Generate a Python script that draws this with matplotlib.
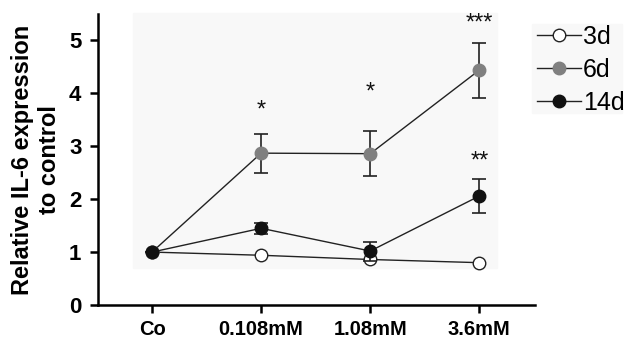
import numpy as np
import matplotlib.pyplot as plt
from matplotlib.patches import Rectangle
from matplotlib.lines import Line2D

plt.rcParams['font.family'] = ['Liberation Sans', 'DejaVu Sans']

groups = ["Co", "0.108mM", "1.08mM", "3.6mM"]
d3 = [1.0, 0.94, 0.86, 0.80]
d6 = [1.0, 2.87, 2.86, 4.44]
d6_err = [0.0, 0.37, 0.43, 0.52]
d14 = [1.0, 1.45, 1.02, 2.06]
d14_err = [0.0, 0.10, 0.18, 0.33]
stars = ["*", "*", "***", "**"]
star_x = [1, 2, 3, 3]
star_y = [3.46, 3.81, 5.12, 2.50]

fig = plt.figure(figsize=(6.25, 3.41), dpi=100)
# faint grey patches behind plot and legend (scan artefact)
fig.patches.append(Rectangle((133/625, 1-268/341), (497-133)/625, (268-13)/341,
                             transform=fig.transFigure, color='#f8f8f8', zorder=-5))
fig.patches.append(Rectangle((532/625, 1-113/341), (622-532)/625, (113-24)/341,
                             transform=fig.transFigure, color='#f8f8f8', zorder=-5))
ax = fig.add_axes([98/625, 1-305/341, (535-98)/625, (305-14)/341])
ax.set_zorder(2)
ax.patch.set_alpha(0)

x = np.arange(len(groups))
lc = '#222222'
ax.errorbar(x, d6, yerr=d6_err, color=lc, lw=1, marker='o', ms=9, mfc='#808080',
            mec='#808080', ecolor=lc, elinewidth=1.2, capsize=5, capthick=1.2, zorder=3)
ax.errorbar(x, d14, yerr=d14_err, color=lc, lw=1, marker='o', ms=9, mfc='#111111',
            mec='#111111', ecolor=lc, elinewidth=1.2, capsize=5, capthick=1.2, zorder=4)
ax.plot(x, d3, color=lc, lw=1, marker='o', ms=9, mfc='white', mec=lc, mew=1, zorder=2)

for sx, sy, s in zip(star_x, star_y, stars):
    ax.text(sx, sy, s, ha='center', va='bottom', fontsize=17, color='#111111')

ax.set_xlim(-0.495, 3.51)
ax.set_ylim(0, 5.5)
ax.set_xticks(x)
ax.set_xticklabels(groups, fontsize=14.5, fontweight='bold')
ax.set_yticks(range(6))
ax.set_yticklabels([str(i) for i in range(6)], fontsize=16, fontweight='bold')
for s in ['top', 'right']:
    ax.spines[s].set_visible(False)
for s in ['left', 'bottom']:
    ax.spines[s].set_linewidth(1.8)
ax.tick_params(axis='x', width=1.8, length=6, pad=5)
ax.tick_params(axis='y', width=1.8, length=6, pad=6)
ax.set_ylabel("Relative IL-6 expression\nto control", fontsize=17, fontweight='bold',
              labelpad=6, linespacing=1.2)

hs = [Line2D([], [], color=lc, lw=1, marker='o', ms=9, mfc='white', mec=lc),
      Line2D([], [], color=lc, lw=1, marker='o', ms=9, mfc='#808080', mec='#808080'),
      Line2D([], [], color=lc, lw=1, marker='o', ms=9, mfc='#111111', mec='#111111')]
fig.legend(hs, ['3d', '6d', '14d'], loc='upper left', bbox_to_anchor=(537/625, 1-25/341),
           frameon=False, fontsize=18, handlelength=1.75, handletextpad=0.1,
           labelspacing=0.35, borderpad=0, borderaxespad=0)

fig.savefig('out.png', dpi=100)
